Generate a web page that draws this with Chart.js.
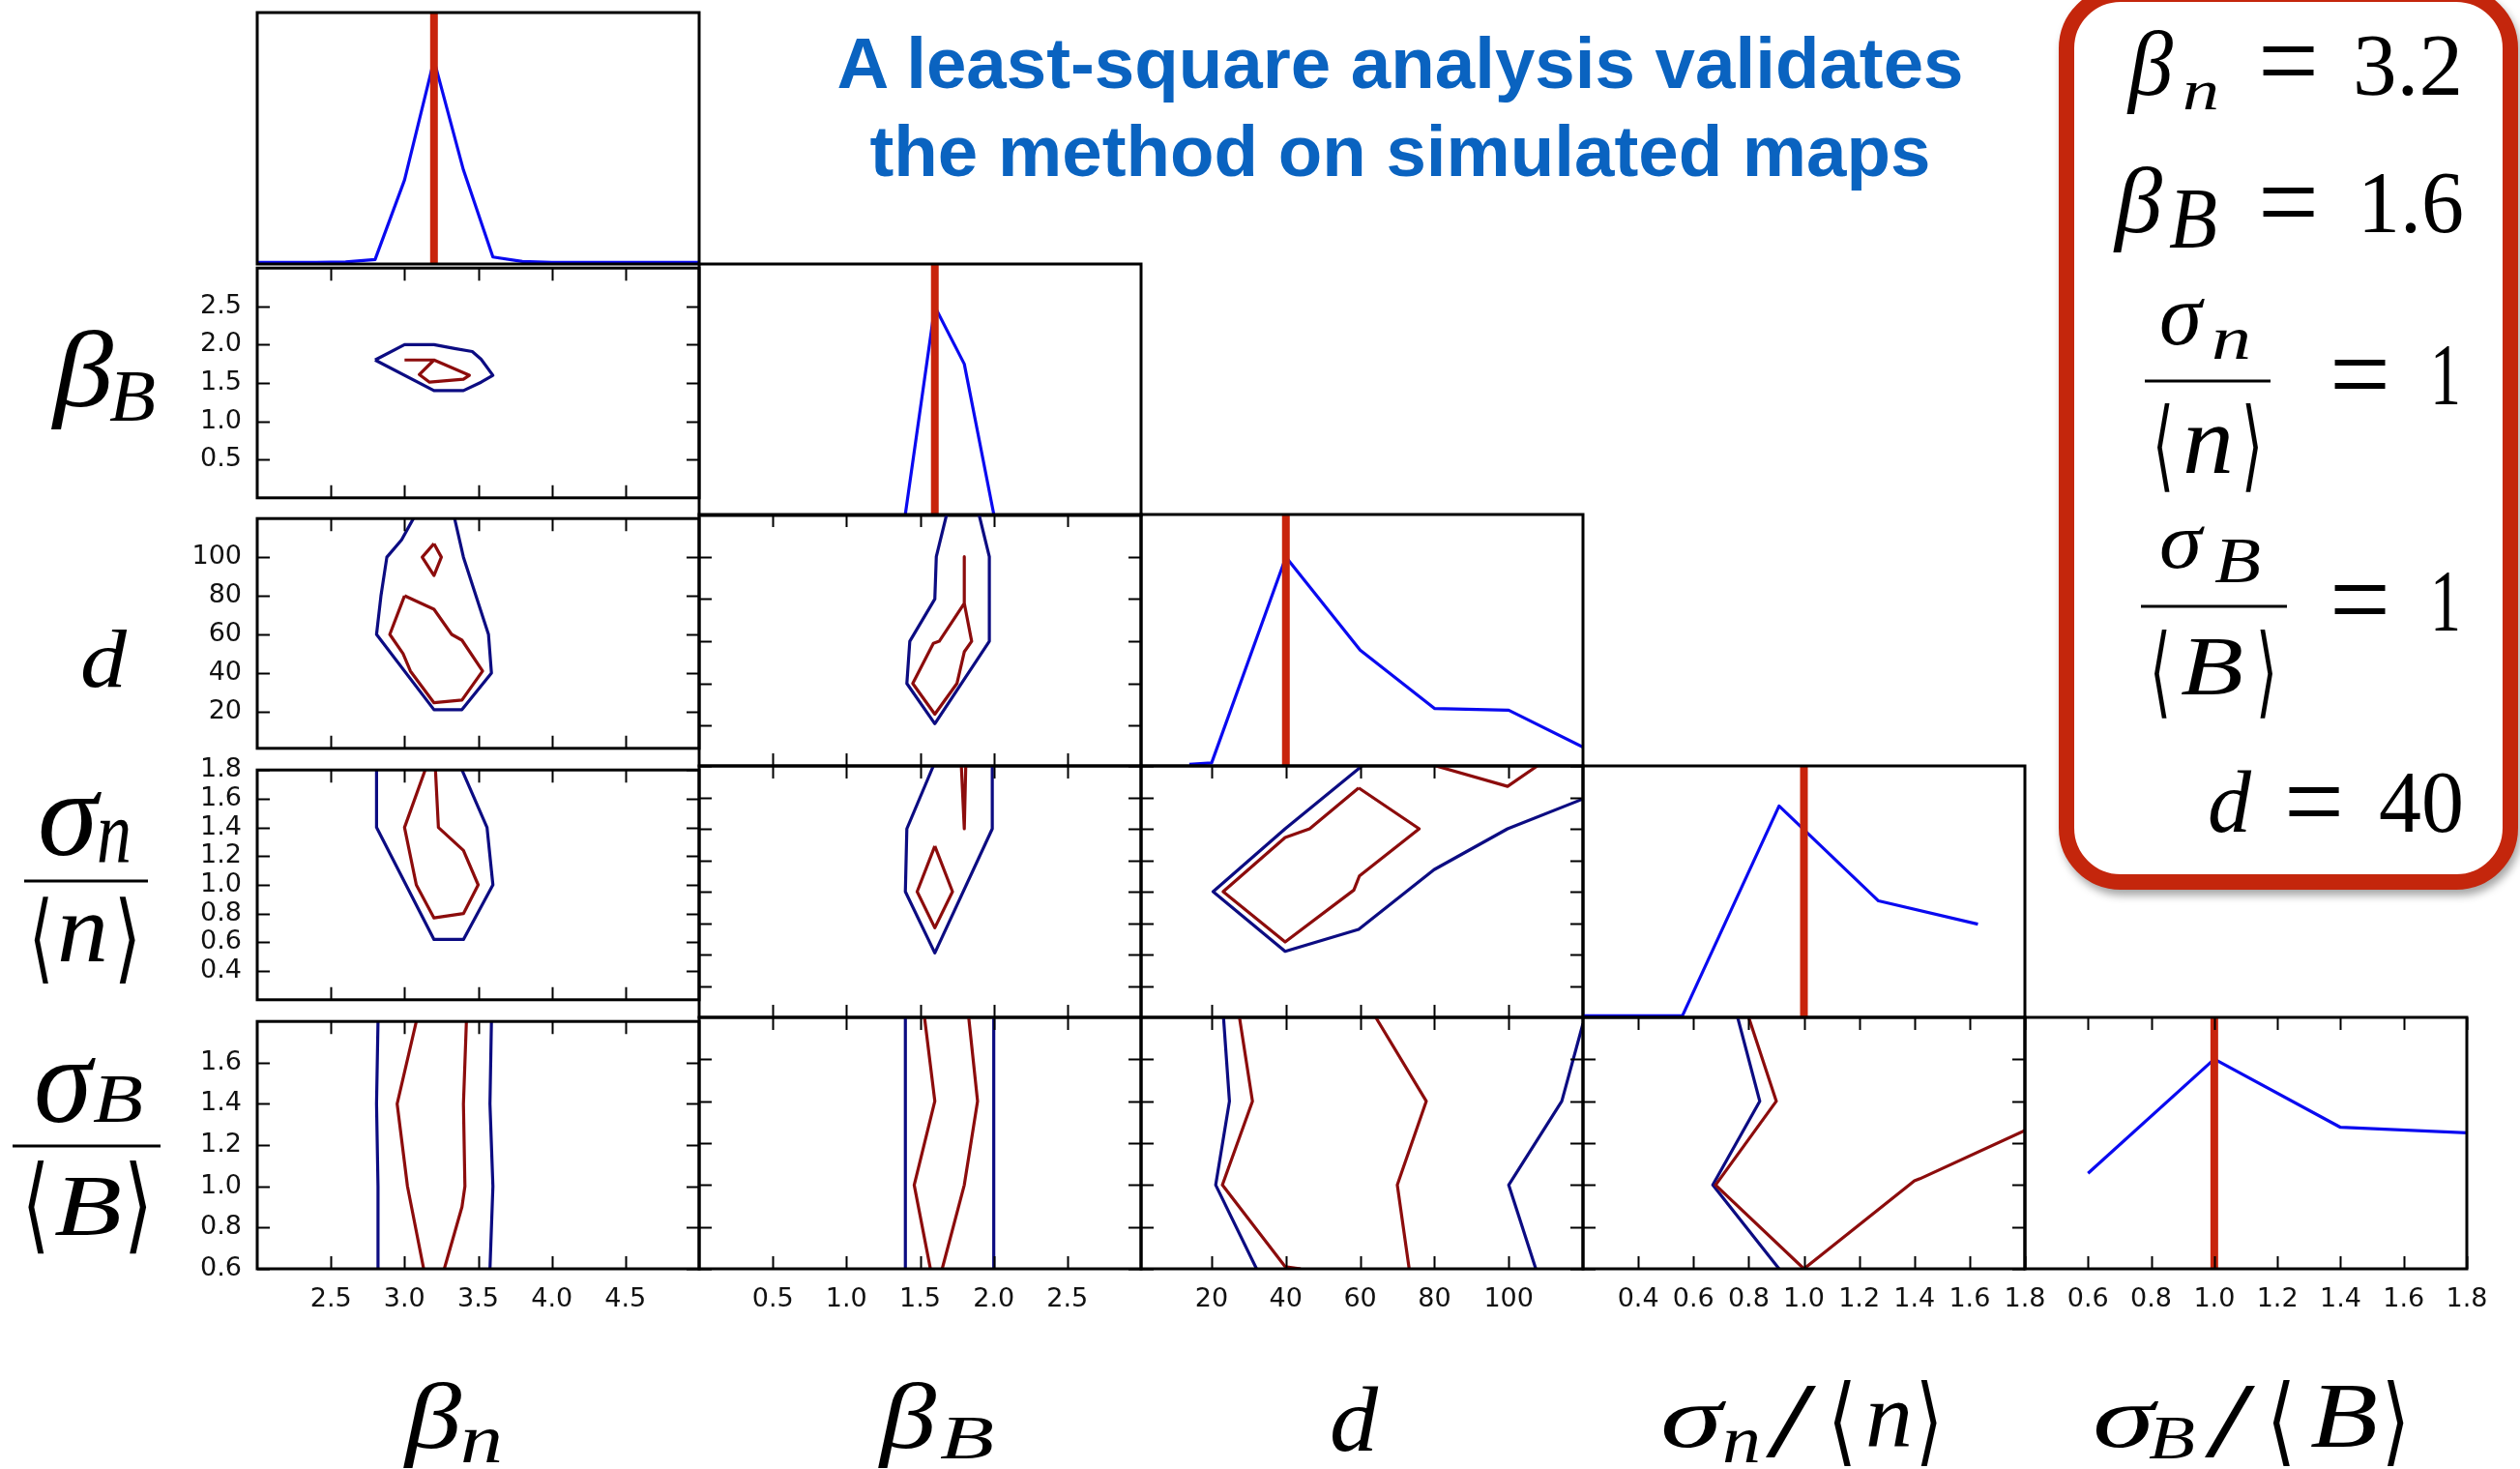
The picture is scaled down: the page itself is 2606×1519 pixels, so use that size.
<!DOCTYPE html>
<html>
<head>
<meta charset="utf-8">
<script src="https://cdn.jsdelivr.net/npm/chart.js@4.4.1/dist/chart.umd.min.js"></script>
<style>
  html, body { margin: 0; padding: 0; background: #fff; }
  #page { position: relative; width: 2606px; height: 1519px; overflow: hidden; background: #fff; }
  canvas.panel { position: absolute; }
  #box { position: absolute; left: 2129px; top: -14px; width: 475px; height: 934px; box-sizing: border-box;
         border: 16px solid #c4260c; border-radius: 64px; background: #fff;
         box-shadow: 3px 6px 9px rgba(0,0,0,0.35); }
  #overlay { position: absolute; left: 0; top: 0; }
  .mi { font-family: 'Liberation Serif', serif; font-style: italic; fill: #000; }
  .mr { font-family: 'Liberation Serif', serif; fill: #000; }
  .br { font-family: 'DejaVu Sans', sans-serif; fill: #000; }
  .title { font-family: 'Liberation Sans', Arial, sans-serif; font-weight: bold; font-size: 74.5px; fill: #0a63c0; }
</style>
</head>
<body>
<div id="page">
  <div id="box"></div>
  <svg id="overlay" width="2606" height="1519" xmlns="http://www.w3.org/2000/svg">
    <!-- heading -->
    <text class="title" x="1448" y="91" text-anchor="middle">A least-square analysis validates</text>
    <text class="title" x="1448" y="182" text-anchor="middle">the method on simulated maps</text>

    <!-- parameter names under the columns -->
    <text class="mi" x="419" y="1497" font-size="98" textLength="58" lengthAdjust="spacingAndGlyphs">β</text>
    <text class="mi" x="476" y="1512" font-size="72" textLength="44" lengthAdjust="spacingAndGlyphs">n</text>

    <text class="mi" x="910" y="1497" font-size="98" textLength="58" lengthAdjust="spacingAndGlyphs">β</text>
    <text class="mi" x="972" y="1508" font-size="64" textLength="56" lengthAdjust="spacingAndGlyphs">B</text>

    <text class="mi" x="1375" y="1500" font-size="96" textLength="50" lengthAdjust="spacingAndGlyphs">d</text>

    <text class="mi" x="1717" y="1496" font-size="92" textLength="64" lengthAdjust="spacingAndGlyphs">σ</text>
    <text class="mi" x="1781" y="1512" font-size="70" textLength="40" lengthAdjust="spacingAndGlyphs">n</text>
    <text class="mr" x="1826" y="1506" font-size="110" textLength="52" lengthAdjust="spacingAndGlyphs">/</text>
    <text class="br" x="1890" y="1503" font-size="100" textLength="30" lengthAdjust="spacingAndGlyphs">⟨</text>
    <text class="mi" x="1929" y="1496" font-size="96" textLength="49" lengthAdjust="spacingAndGlyphs">n</text>
    <text class="br" x="1981" y="1503" font-size="100" textLength="28" lengthAdjust="spacingAndGlyphs">⟩</text>

    <text class="mi" x="2164" y="1496" font-size="92" textLength="64" lengthAdjust="spacingAndGlyphs">σ</text>
    <text class="mi" x="2222" y="1508" font-size="64" textLength="48" lengthAdjust="spacingAndGlyphs">B</text>
    <text class="mr" x="2280" y="1506" font-size="110" textLength="52" lengthAdjust="spacingAndGlyphs">/</text>
    <text class="br" x="2344" y="1503" font-size="100" textLength="30" lengthAdjust="spacingAndGlyphs">⟨</text>
    <text class="mi" x="2389" y="1496" font-size="96" textLength="70" lengthAdjust="spacingAndGlyphs">B</text>
    <text class="br" x="2463" y="1503" font-size="100" textLength="29" lengthAdjust="spacingAndGlyphs">⟩</text>

    <!-- parameter names beside the rows -->
    <text class="mi" x="55" y="420" font-size="112" textLength="62" lengthAdjust="spacingAndGlyphs">β</text>
    <text class="mi" x="113" y="435" font-size="76" textLength="48" lengthAdjust="spacingAndGlyphs">B</text>

    <text class="mi" x="83" y="710" font-size="84" textLength="48" lengthAdjust="spacingAndGlyphs">d</text>

    <text class="mi" x="39" y="884" font-size="124" textLength="62" lengthAdjust="spacingAndGlyphs">σ</text>
    <text class="mi" x="100" y="892" font-size="94" textLength="36" lengthAdjust="spacingAndGlyphs">n</text>
    <line x1="25" y1="911" x2="153" y2="911" stroke="#000" stroke-width="3"/>
    <text class="br" x="30" y="1004" font-size="101" textLength="25" lengthAdjust="spacingAndGlyphs">⟨</text>
    <text class="mi" x="59" y="994" font-size="102" textLength="53" lengthAdjust="spacingAndGlyphs">n</text>
    <text class="br" x="118" y="1004" font-size="101" textLength="28" lengthAdjust="spacingAndGlyphs">⟩</text>

    <text class="mi" x="35" y="1160" font-size="128" textLength="60" lengthAdjust="spacingAndGlyphs">σ</text>
    <text class="mi" x="96" y="1160" font-size="71" textLength="52" lengthAdjust="spacingAndGlyphs">B</text>
    <line x1="13" y1="1185" x2="166" y2="1185" stroke="#000" stroke-width="3"/>
    <text class="br" x="23" y="1282" font-size="108" textLength="28" lengthAdjust="spacingAndGlyphs">⟨</text>
    <text class="mi" x="56" y="1276" font-size="88" textLength="70" lengthAdjust="spacingAndGlyphs">B</text>
    <text class="br" x="128" y="1282" font-size="108" textLength="30" lengthAdjust="spacingAndGlyphs">⟩</text>

    <!-- input values of the simulation -->
    <text class="mi" x="2201" y="98" font-size="96" textLength="46" lengthAdjust="spacingAndGlyphs">β</text>
    <text class="mi" x="2257" y="113" font-size="60" textLength="38" lengthAdjust="spacingAndGlyphs">n</text>
    <text class="mr" x="2335" y="103" font-size="120" textLength="63" lengthAdjust="spacingAndGlyphs">=</text>
    <text class="mr" x="2433" y="98" font-size="92" textLength="114" lengthAdjust="spacingAndGlyphs">3.2</text>

    <text class="mi" x="2187" y="240" font-size="98" textLength="49" lengthAdjust="spacingAndGlyphs">β</text>
    <text class="mi" x="2243" y="255" font-size="88" textLength="50" lengthAdjust="spacingAndGlyphs">B</text>
    <text class="mr" x="2335" y="249" font-size="120" textLength="63" lengthAdjust="spacingAndGlyphs">=</text>
    <text class="mr" x="2438" y="240" font-size="92" textLength="110" lengthAdjust="spacingAndGlyphs">1.6</text>

    <text class="mi" x="2233" y="356" font-size="90" textLength="44" lengthAdjust="spacingAndGlyphs">σ</text>
    <text class="mi" x="2287" y="371" font-size="64" textLength="41" lengthAdjust="spacingAndGlyphs">n</text>
    <line x1="2218" y1="394" x2="2348" y2="394" stroke="#000" stroke-width="3"/>
    <text class="br" x="2226" y="495" font-size="103" textLength="22" lengthAdjust="spacingAndGlyphs">⟨</text>
    <text class="mi" x="2257" y="489" font-size="102" textLength="53" lengthAdjust="spacingAndGlyphs">n</text>
    <text class="br" x="2318" y="495" font-size="103" textLength="22" lengthAdjust="spacingAndGlyphs">⟩</text>
    <text class="mr" x="2409" y="427" font-size="120" textLength="63" lengthAdjust="spacingAndGlyphs">=</text>
    <text class="mr" x="2513" y="418" font-size="92" textLength="32" lengthAdjust="spacingAndGlyphs">1</text>

    <text class="mi" x="2233" y="587" font-size="83" textLength="44" lengthAdjust="spacingAndGlyphs">σ</text>
    <text class="mi" x="2290" y="602" font-size="67" textLength="48" lengthAdjust="spacingAndGlyphs">B</text>
    <line x1="2214" y1="627" x2="2365" y2="627" stroke="#000" stroke-width="3"/>
    <text class="br" x="2223" y="729" font-size="103" textLength="22" lengthAdjust="spacingAndGlyphs">⟨</text>
    <text class="mi" x="2255" y="718" font-size="86" textLength="65" lengthAdjust="spacingAndGlyphs">B</text>
    <text class="br" x="2333" y="729" font-size="103" textLength="22" lengthAdjust="spacingAndGlyphs">⟩</text>
    <text class="mr" x="2409" y="660" font-size="120" textLength="63" lengthAdjust="spacingAndGlyphs">=</text>
    <text class="mr" x="2513" y="652" font-size="92" textLength="32" lengthAdjust="spacingAndGlyphs">1</text>

    <text class="mi" x="2283" y="860" font-size="91" textLength="45" lengthAdjust="spacingAndGlyphs">d</text>
    <text class="mr" x="2362" y="869" font-size="120" textLength="62" lengthAdjust="spacingAndGlyphs">=</text>
    <text class="mr" x="2460" y="860" font-size="92" textLength="88" lengthAdjust="spacingAndGlyphs">40</text>
  </svg>
</div>

<script>
// ---- parameter axes ----
const betaNRange = [2, 5];
const betaBRange = [0, 3];
const dRange = [1, 120];
const sigmaNRange = [0.2, 1.8];
const sigmaBRangeX = [0.4, 1.8];
const sigmaBRangeY = [0.6, 1.8];

const betaNTicks = [2.5, 3.0, 3.5, 4.0, 4.5];
const betaBTicks = [0.5, 1.0, 1.5, 2.0, 2.5];
const dTicks = [20, 40, 60, 80, 100];
const sigmaNTicks = [0.4, 0.6, 0.8, 1.0, 1.2, 1.4, 1.6, 1.8];
const sigmaBTicksX = [0.6, 0.8, 1.0, 1.2, 1.4, 1.6, 1.8];
const sigmaBTicksY = [0.6, 0.8, 1.0, 1.2, 1.4, 1.6];

// ---- input values used to build the simulated maps ----
const trueBetaN = 3.2;
const trueBetaB = 1.6;
const trueD = 40;
const trueSigmaN = 1.0;
const trueSigmaB = 1.0;

// ---- 1D marginal likelihoods (normalised) ----
const margBetaNX = [2.0, 2.2, 2.4, 2.6, 2.8, 3.0, 3.2, 3.4, 3.6, 3.8, 4.0, 4.2, 4.4, 4.6, 4.8, 5.0];
const margBetaNY = [0, 0, 0, 0.002, 0.012, 0.33, 0.81, 0.37, 0.022, 0.004, 0, 0, 0, 0, 0, 0];
const margBetaBX = [1.4, 1.6, 1.8, 2.0];
const margBetaBY = [0, 0.83, 0.60, 0];
const margDX = [14, 20, 40, 60, 80, 100, 120];
const margDY = [0, 0.006, 0.83, 0.457, 0.224, 0.217, 0.069];
const margSigmaNX = [0.20, 0.56, 0.91, 1.27, 1.63];
const margSigmaNY = [0, 0, 0.84, 0.46, 0.367];
const margSigmaBX = [0.6, 1.0, 1.4, 1.8];
const margSigmaBY = [0.376, 0.833, 0.56, 0.538];

// ---- 2D confidence contours: outer level and inner level ----
// betaB vs betaN
const outerBB_BN = [[2.80,1.80],[3.00,2.00],[3.20,2.00],[3.34,1.95],[3.46,1.91],[3.52,1.81],[3.60,1.60],[3.52,1.51],[3.40,1.40],[3.20,1.40],[2.80,1.80]];
const innerBB_BN = [[3.00,1.80],[3.20,1.80],[3.44,1.60],[3.40,1.55],[3.17,1.51],[3.10,1.61],[3.20,1.80]];
// d vs betaN
const outerD_BN = [[3.06,120],[2.98,109],[2.88,100],[2.84,80],[2.81,60],[3.20,21],[3.39,21],[3.59,40],[3.57,60],[3.40,100],[3.34,120]];
const innerD_BN = [[3.00,80],[3.20,73],[3.32,60],[3.39,57],[3.53,41],[3.39,26],[3.20,24.6],[3.04,41],[2.99,50],[2.90,60],[3.00,80]];
const innerD_BN2 = [[3.20,107],[3.25,100],[3.20,90.5],[3.12,100],[3.20,107]];
// d vs betaB
const outerD_BB = [[1.68,120],[1.61,100],[1.60,80],[1.43,60],[1.41,40],[1.60,21],[1.97,60],[1.97,100],[1.90,120]];
const innerD_BB = [[1.80,100],[1.80,78],[1.85,60],[1.80,55],[1.75,40],[1.60,25.5],[1.45,40],[1.59,59],[1.63,60],[1.80,78]];
// sigmaN vs betaN
const outerSN_BN = [[2.81,1.8],[2.81,1.4],[3.20,0.62],[3.40,0.62],[3.60,1.0],[3.56,1.4],[3.39,1.8]];
const innerSN_BN = [[3.14,1.8],[3.00,1.4],[3.08,1.0],[3.20,0.77],[3.40,0.80],[3.50,1.0],[3.40,1.24],[3.23,1.40],[3.21,1.8]];
// sigmaN vs betaB
const outerSN_BB = [[1.59,1.8],[1.41,1.4],[1.40,1.0],[1.60,0.61],[1.99,1.4],[1.99,1.8]];
const innerSN_BB = [[1.60,1.29],[1.72,1.0],[1.60,0.77],[1.48,1.0],[1.60,1.29]];
const innerSN_BB2 = [[1.78,1.8],[1.80,1.4],[1.81,1.8]];
// sigmaN vs d
const outerSN_D = [[60.5,1.8],[39.8,1.4],[20.4,1.0],[39.8,0.62],[59.6,0.76],[79.9,1.14],[99.7,1.40],[120,1.59]];
const innerSN_D = [[59.6,1.66],[75.9,1.40],[59.8,1.10],[58.3,1.01],[39.8,0.68],[23.1,1.0],[39.8,1.345],[46.4,1.40],[59.6,1.66]];
const innerSN_D2 = [[80.4,1.8],[99.7,1.67],[107.7,1.8]];
// sigmaB vs betaN
const outerSB_BN = [[2.82,1.8],[2.81,1.4],[2.82,1.0],[2.82,0.6]];
const outerSB_BN2 = [[3.59,1.8],[3.58,1.4],[3.60,1.0],[3.58,0.6]];
const innerSB_BN = [[3.08,1.8],[2.95,1.4],[3.02,1.0],[3.13,0.6]];
const innerSB_BN2 = [[3.42,1.8],[3.40,1.4],[3.41,1.0],[3.39,0.9],[3.27,0.6]];
// sigmaB vs betaB
const outerSB_BB = [[1.40,1.8],[1.40,0.6]];
const outerSB_BB2 = [[2.00,1.8],[2.00,0.6]];
const innerSB_BB = [[1.53,1.8],[1.60,1.4],[1.46,1.0],[1.57,0.6]];
const innerSB_BB2 = [[1.83,1.8],[1.89,1.4],[1.80,1.0],[1.65,0.6]];
// sigmaB vs d
const outerSB_D = [[23.2,1.8],[24.8,1.4],[21.1,1.0],[32.1,0.6]];
const outerSB_D2 = [[120,1.77],[114.3,1.4],[100,1.0],[107.3,0.6]];
const innerSB_D = [[27.5,1.8],[31.0,1.4],[22.9,1.0],[39.8,0.61],[44.0,0.6]];
const innerSB_D2 = [[64.2,1.8],[77.8,1.4],[70.0,1.0],[73.2,0.6]];
// sigmaB vs sigmaN
const outerSB_SN = [[0.76,1.8],[0.84,1.4],[0.67,1.0],[0.91,0.6]];
const innerSB_SN = [[0.80,1.8],[0.90,1.4],[0.68,1.0],[1.00,0.6],[1.40,1.02],[1.42,1.03],[1.80,1.26]];

// ---- grid geometry ----
const colLeft = [266, 723, 1180, 1637, 2094];
const rowTop = [13, 273, 532, 792, 1052];
const PW = 457, PH = 260;

const COL_MARG = '#0a0af0';
const COL_OUTER = '#0c0c82';
const COL_INNER = '#8c0c0c';
const COL_TRUE = '#c8240c';
const LINE_W = 3.2;

const params = [
  { range: betaNRange, ticksX: betaNTicks, truth: trueBetaN, mx: margBetaNX, my: margBetaNY, isInt: false },
  { range: betaBRange, ticksX: betaBTicks, ticksY: betaBTicks, rangeY: betaBRange, truth: trueBetaB, mx: margBetaBX, my: margBetaBY, isInt: false },
  { range: dRange, ticksX: dTicks, ticksY: dTicks, rangeY: dRange, truth: trueD, mx: margDX, my: margDY, isInt: true },
  { range: sigmaNRange, ticksX: sigmaNTicks, ticksY: sigmaNTicks, rangeY: sigmaNRange, truth: trueSigmaN, mx: margSigmaNX, my: margSigmaNY, isInt: false },
  { range: sigmaBRangeX, ticksX: sigmaBTicksX, ticksY: sigmaBTicksY, rangeY: sigmaBRangeY, truth: trueSigmaB, mx: margSigmaBX, my: margSigmaBY, isInt: false }
];

// contour sets keyed by "row-col"
const contourSets = {
  '1-0': { outer: [outerBB_BN], inner: [innerBB_BN] },
  '2-0': { outer: [outerD_BN], inner: [innerD_BN, innerD_BN2] },
  '2-1': { outer: [outerD_BB], inner: [innerD_BB] },
  '3-0': { outer: [outerSN_BN], inner: [innerSN_BN] },
  '3-1': { outer: [outerSN_BB], inner: [innerSN_BB, innerSN_BB2] },
  '3-2': { outer: [outerSN_D], inner: [innerSN_D, innerSN_D2] },
  '4-0': { outer: [outerSB_BN, outerSB_BN2], inner: [innerSB_BN, innerSB_BN2] },
  '4-1': { outer: [outerSB_BB, outerSB_BB2], inner: [innerSB_BB, innerSB_BB2] },
  '4-2': { outer: [outerSB_D, outerSB_D2], inner: [innerSB_D, innerSB_D2] },
  '4-3': { outer: [outerSB_SN], inner: [innerSB_SN] }
};

// frame around each panel plus inward-pointing tick marks
const framePlugin = {
  id: 'frame',
  afterDatasetsDraw(chart, args, opts) {
    const { ctx, chartArea: a, scales } = chart;
    ctx.save();
    ctx.strokeStyle = '#000';
    ctx.lineCap = 'butt';
    ctx.lineWidth = 2;
    const len = 13;
    ctx.beginPath();
    if (opts.xTicks) {
      for (const t of scales.x.ticks) {
        const px = Math.round(scales.x.getPixelForValue(t.value)) + 0.5;
        ctx.moveTo(px, a.bottom); ctx.lineTo(px, a.bottom - len);
        ctx.moveTo(px, a.top); ctx.lineTo(px, a.top + len);
      }
    }
    if (opts.yTicks) {
      for (const t of scales.y.ticks) {
        const py = Math.round(scales.y.getPixelForValue(t.value)) + 0.5;
        ctx.moveTo(a.left, py); ctx.lineTo(a.left + len, py);
        ctx.moveTo(a.right, py); ctx.lineTo(a.right - len, py);
      }
    }
    ctx.stroke();
    ctx.lineWidth = 3;
    ctx.strokeRect(a.left, a.top, a.right - a.left, a.bottom - a.top);
    ctx.restore();
  }
};

const page = document.getElementById('page');
const overlay = document.getElementById('overlay');

function toPoints(list) { return list.map(p => ({ x: p[0], y: p[1] })); }

function lineSet(points, color, width, order) {
  return { data: points, showLine: true, borderColor: color, borderWidth: width, pointRadius: 0,
           pointHoverRadius: 0, fill: false, tension: 0, borderJoinStyle: 'round', order: order };
}

function fmt(isInt) {
  return v => isInt ? String(Math.round(v)) : Number(v).toFixed(1);
}

function makePanel(row, col) {
  const diag = row === col;
  const px = params[col];
  const py = params[row];
  const L = col === 0 ? 90 : 6;
  const R = row === 4 ? 30 : 6;
  const T = col === 0 ? 20 : 6;
  const B = row === 4 ? 60 : 6;
  const w = PW + L + R, h = PH + T + B;

  const c = document.createElement('canvas');
  c.className = 'panel';
  c.width = w; c.height = h;
  c.style.width = w + 'px'; c.style.height = h + 'px';
  c.style.left = (colLeft[col] - L) + 'px';
  c.style.top = (rowTop[row] - T) + 'px';
  page.insertBefore(c, overlay);

  const datasets = [];
  let yMin, yMax, yTickVals;
  if (diag) {
    datasets.push(lineSet([{ x: px.truth, y: -0.01 }, { x: px.truth, y: 1.0 }], COL_TRUE, 8, 0));
    datasets.push(lineSet(px.mx.map((x, i) => ({ x: x, y: px.my[i] })), COL_MARG, LINE_W, 1));
    yMin = -0.006; yMax = 1.0; yTickVals = [];
  } else {
    const cs = contourSets[row + '-' + col];
    cs.inner.forEach(p => datasets.push(lineSet(toPoints(p), COL_INNER, LINE_W, 0)));
    cs.outer.forEach(p => datasets.push(lineSet(toPoints(p), COL_OUTER, LINE_W, 1)));
    yMin = py.rangeY[0]; yMax = py.rangeY[1]; yTickVals = py.ticksY;
  }

  const tickFont = { family: 'DejaVu Sans', size: 27 };
  const showXLabels = row === 4;
  const showYLabels = col === 0 && row > 0;

  new Chart(c, {
    type: 'scatter',
    data: { datasets: datasets },
    options: {
      responsive: false,
      animation: false,
      devicePixelRatio: 1,
      layout: { padding: { left: 0, right: R, top: T, bottom: 0 }, autoPadding: false },
      plugins: {
        legend: { display: false },
        tooltip: { enabled: false },
        frame: { xTicks: !diag || row === 4, yTicks: !diag }
      },
      scales: {
        x: {
          type: 'linear', position: 'bottom', min: px.range[0], max: px.range[1],
          grid: { display: false }, border: { display: false },
          afterBuildTicks: s => { s.ticks = px.ticksX.map(v => ({ value: v })); },
          afterFit: s => { s.height = B; },
          ticks: { display: showXLabels, font: tickFont, color: '#111', padding: 8,
                   maxRotation: 0, minRotation: 0, autoSkip: false, callback: fmt(px.isInt) }
        },
        y: {
          type: 'linear', position: 'left', min: yMin, max: yMax,
          grid: { display: false }, border: { display: false },
          afterBuildTicks: s => { s.ticks = yTickVals.map(v => ({ value: v })); },
          afterFit: s => { s.width = L; },
          ticks: { display: showYLabels, font: tickFont, color: '#111', padding: 8,
                   autoSkip: false, callback: fmt(py.isInt) }
        }
      }
    },
    plugins: [framePlugin]
  });
}

for (let row = 0; row < 5; row++) {
  for (let col = 0; col <= row; col++) {
    makePanel(row, col);
  }
}
</script>
</body>
</html>
